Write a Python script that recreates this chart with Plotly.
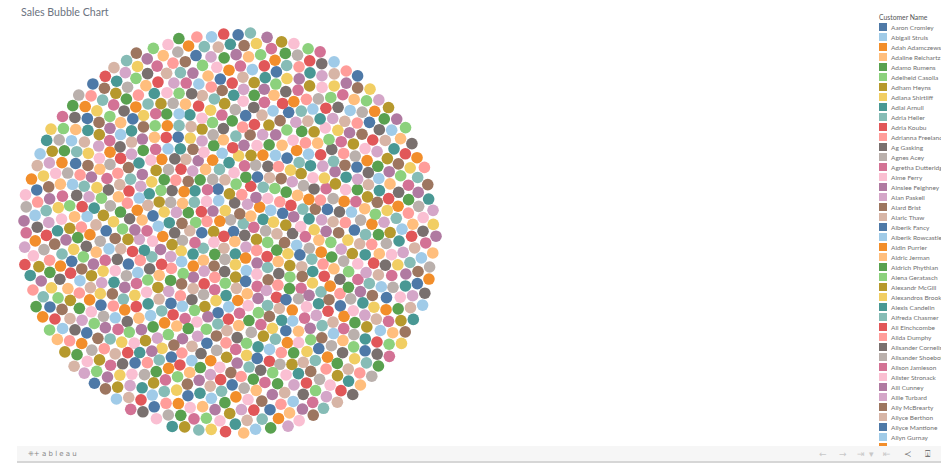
import math
import numpy as np
import plotly.graph_objects as go

W, H = 941, 468

# ---------------- data ----------------
chart_title = "Sales Bubble Chart"
legend_title = "Customer Name"
# customers visible in the (scrolled) legend, alphabetical order
legend_names = [
    "Aaron Cromley", "Abigail Struis", "Adah Adamczewsk", "Adaline Reichartz",
    "Adamo Rumens", "Adelheid Casolla", "Adham Heyns", "Adiana Shirtliff",
    "Adlai Arnull", "Adria Heller", "Adria Koubu", "Adrianna Freeland",
    "Ag Gasking", "Agnes Acey", "Agretha Dutteridg", "Aime Ferry",
    "Ainslee Feighney", "Alan Paskell", "Alard Brist", "Alaric Thaw",
    "Alberik Fancy", "Alberik Rowcastle", "Aldin Purrier", "Aldric Jerman",
    "Aldrich Phythian", "Alena Geratasch", "Alexandr McGill", "Alexandros Brook...",
    "Alexis Candelin", "Alfreda Chasmer", "Ali Einchcombe", "Alida Dumphy",
    "Alisander Cornelis", "Alisander Shoebot", "Alison Jamieson", "Alister Stronack",
    "Alli Cunney", "Allie Turbard", "Ally McBrearty", "Allyce Berthon",
    "Allyce Mantione", "Allyn Gurnay", "",
]
# estimated number of customers (bubbles) in the view; sales per customer look equal
n_customers = 1000
# Tableau 20 palette, assigned to customers in alphabetical order
palette = [
    "#4E79A7", "#A0CBE8", "#F28E2B", "#FFBE7D", "#59A14F", "#8CD17D",
    "#B6992D", "#F1CE63", "#499894", "#86BCB6", "#E15759", "#FF9D9A",
    "#79706E", "#BAB0AC", "#D37295", "#FABFD2", "#B07AA1", "#D4A6C8",
    "#9D7660", "#D7B5A6",
]

# ---------------- packed-bubble layout (equal bubbles, relaxed packing) ----------------
d0 = 12.2                     # bubble spacing in layout units
golden = math.pi * (3.0 - math.sqrt(5.0))
kk = np.arange(n_customers)
R0 = 196.0
t = np.sqrt((kk + 0.5) / n_customers)
ang = kk * golden
P = np.c_[R0 * t * np.cos(ang), R0 * t * np.sin(ang)]
eye = np.eye(n_customers) * 1e9
for _ in range(120):
    D = P[:, None, :] - P[None, :, :]
    dist = np.sqrt((D ** 2).sum(-1)) + eye
    ov = np.clip(d0 - dist, 0.0, None)
    if ov.max() < 1e-3:
        break
    move = (D / dist[..., None] * (ov * 0.5)[..., None]).sum(1)
    P = P + 0.9 * move

# fit the pack into the view box (bubble centres)
box_l, box_r, box_t, box_b = 24.0, 436.0, 33.0, 433.0
x0, x1 = P[:, 0].min(), P[:, 0].max()
y0, y1 = P[:, 1].min(), P[:, 1].max()
sx = (box_r - box_l) / (x1 - x0)
sy = (box_b - box_t) / (y1 - y0)
bx = box_l + (P[:, 0] - x0) * sx
by = box_t + (P[:, 1] - y0) * sy
diam = d0 * min(sx, sy) * 0.96

# rank order of customers (largest sales packed at the centre); the ranking is not
# readable from the picture, so a fixed scrambled order stands in for it
rank_order = sorted(range(n_customers), key=lambda k: (k * 2654435761) % 4294967296)
bcol = [palette[rank_order[k] % len(palette)] for k in range(n_customers)]

fig = go.Figure()
fig.add_trace(go.Scatter(
    x=bx, y=by, mode="markers", hoverinfo="skip", showlegend=False,
    marker=dict(size=diam, color=bcol, line=dict(width=0)),
))

# ---------------- legend (drawn as a trace) ----------------
leg_x, leg_top, leg_step = 883.0, 27.0, 10.0
ly = [leg_top + k * leg_step for k in range(len(legend_names))]
fig.add_trace(go.Scatter(
    x=[leg_x] * len(legend_names), y=ly, mode="markers", hoverinfo="skip",
    showlegend=False, cliponaxis=False,
    marker=dict(symbol="square", size=8, color=[palette[k % 20] for k in range(len(legend_names))]),
))
for k, name in enumerate(legend_names):
    if name:
        fig.add_annotation(x=leg_x + 6, y=ly[k], text=name, showarrow=False,
                           xanchor="left", yanchor="middle",
                           font=dict(family="Lato", size=6.5, color="#707070"))
fig.add_annotation(x=877, y=16.5, text=legend_title, showarrow=False,
                   xanchor="left", yanchor="middle",
                   font=dict(family="Lato", size=6.8, color="#555555"))

# title
fig.add_annotation(x=19, y=11.5, text=chart_title, showarrow=False,
                   xanchor="left", yanchor="middle",
                   font=dict(family="Lato", size=10.6, color="#6b7380"))

# ---------------- tableau toolbar ----------------
fig.add_shape(type="rect", x0=17, x1=W + 2, y0=446, y1=461, layer="above",
              fillcolor="#f6f6f6", line=dict(width=0))
fig.add_shape(type="rect", x0=17, x1=W + 2, y0=461, y1=463, layer="above",
              fillcolor="#d6d6d6", line=dict(width=0))
fig.add_shape(type="rect", x0=0, x1=W + 2, y0=463, y1=H + 2, layer="above",
              fillcolor="#ffffff", line=dict(width=0))
fig.add_annotation(x=26, y=454, text="⁜+ a b l e a u", showarrow=False,
                   xanchor="left", yanchor="middle",
                   font=dict(family="DejaVu Sans", size=7, color="#888888"))
icons = [(823, "←", "#c8c8c8"), (843, "→", "#c8c8c8"), (861, "⇥", "#c8c8c8"),
         (871, "▾", "#c8c8c8"), (887, "⇤", "#c8c8c8"), (908, "≺", "#777777"),
         (928, "⍗", "#777777")]
for ix, ch, c in icons:
    fig.add_annotation(x=ix, y=454, text=ch, showarrow=False, xanchor="center",
                       yanchor="middle", font=dict(family="DejaVu Sans", size=9, color=c))

fig.update_layout(
    width=W, height=H, autosize=False,
    margin=dict(l=0, r=0, t=0, b=0),
    paper_bgcolor="white", plot_bgcolor="white",
    xaxis=dict(range=[0, W], visible=False, fixedrange=True),
    yaxis=dict(range=[H, 0], visible=False, fixedrange=True),
    showlegend=False,
)
fig.write_html("out.html")
